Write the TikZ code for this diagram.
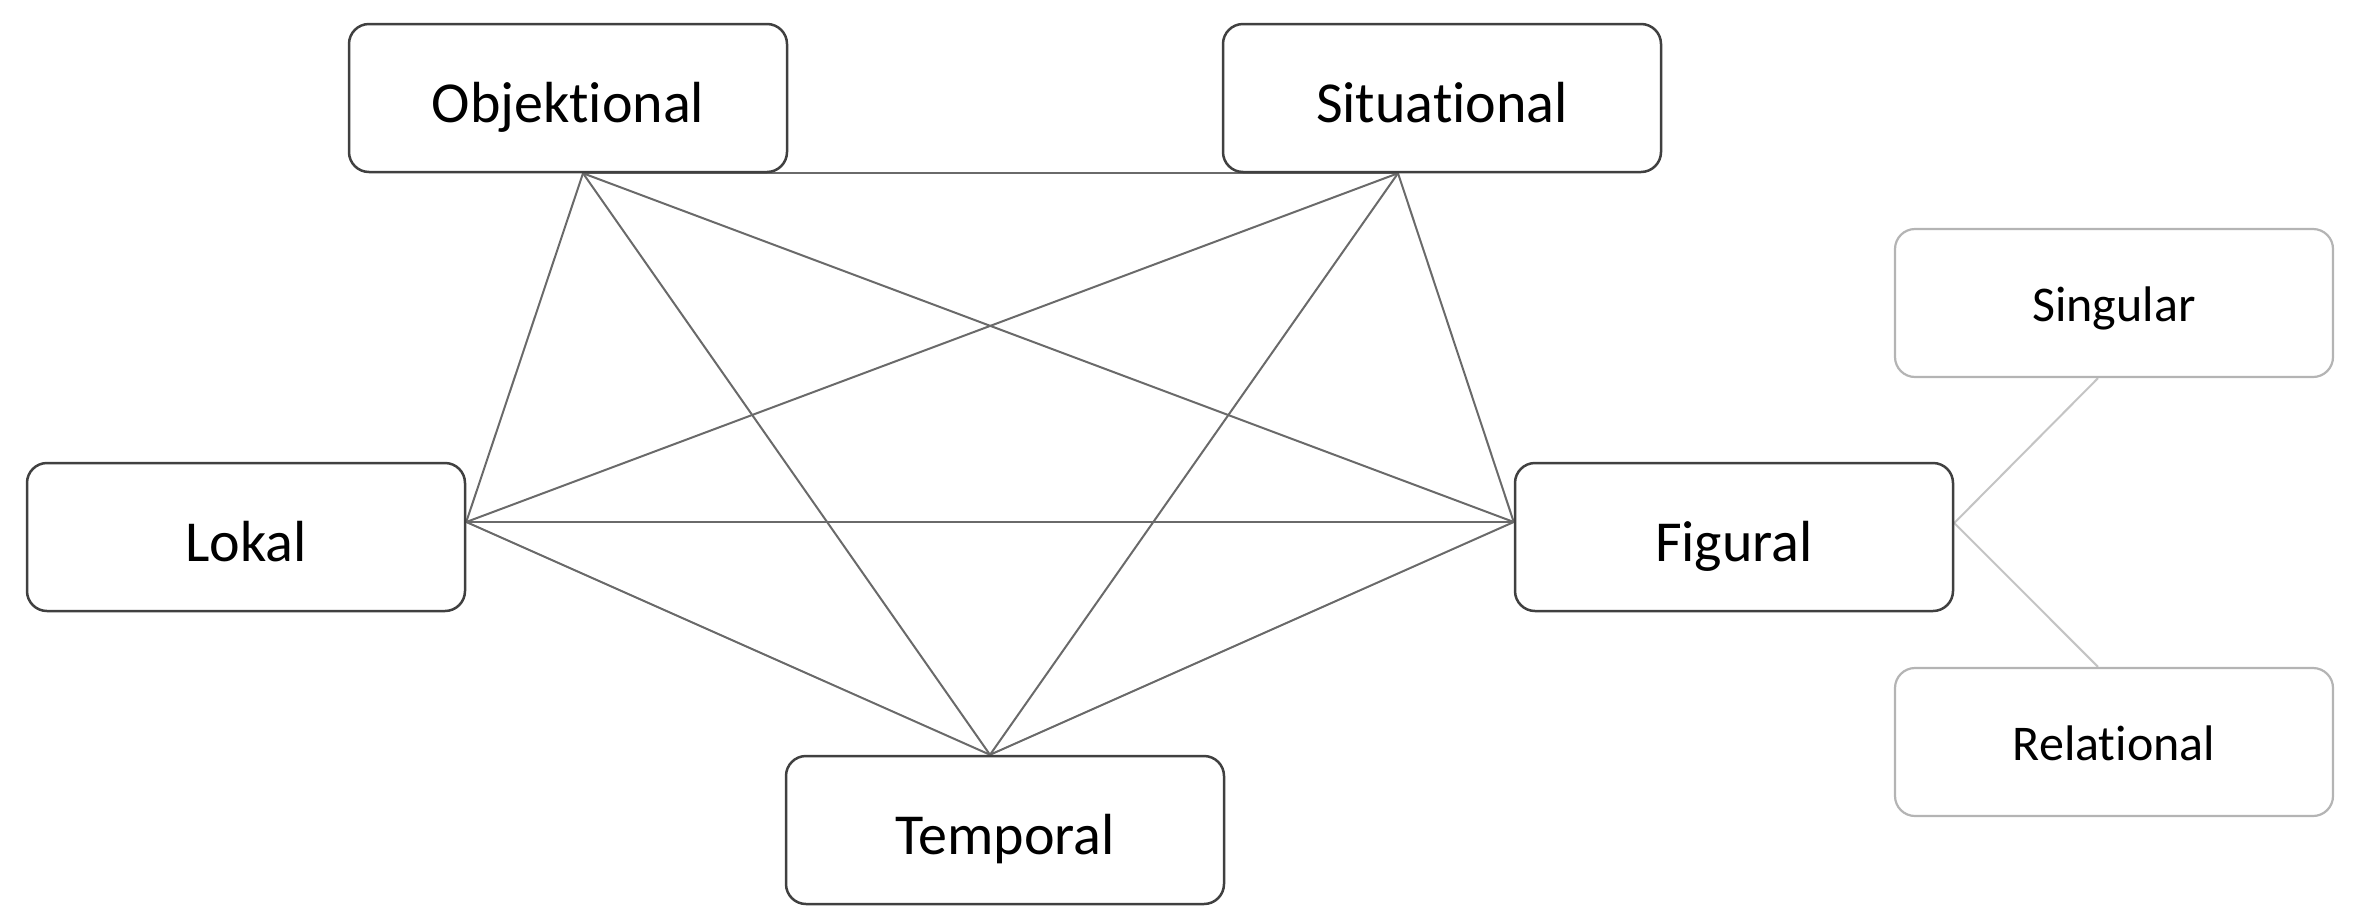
\documentclass[tikz,border=0pt]{standalone}
\usepackage{fontspec}
\setmainfont{Carlito}[Ligatures={NoCommon}]
\usetikzlibrary{backgrounds}
\definecolor{boxdark}{HTML}{404040}
\definecolor{linegray}{HTML}{6A6A6A}
\definecolor{boxlight}{HTML}{B4B4B4}
\definecolor{linelight}{HTML}{C4C4C4}
\tikzset{
  mainbox/.style={draw=boxdark, line width=1.25pt, fill=white, rounded corners=10pt,
    minimum width=219pt, minimum height=74pt, inner sep=0pt,
    text height=24.2pt, text depth=0pt, font=\fontsize{29}{34}\selectfont},
  subbox/.style={draw=boxlight, line width=1.1pt, fill=white, rounded corners=10pt,
    minimum width=219pt, minimum height=74pt, inner sep=0pt,
    text height=18.1pt, text depth=0pt, font=\fontsize{25}{30}\selectfont},
  conn/.style={draw=linegray, line width=1pt},
  subconn/.style={draw=linelight, line width=1pt}
}
\begin{document}
\begin{tikzpicture}[x=0.5pt, y=-0.5pt]
\useasboundingbox (0,0) rectangle (2377,922);
\node[mainbox] (O) at (568,98) {Objektional};
\node[mainbox] (S) at (1442,98) {Situational};
\node[mainbox] (L) at (246,537) {Lokal};
\node[mainbox] (F) at (1734,537) {Figural};
\node[mainbox] (T) at (1005,830) {Temporal};
\node[subbox] (Sg) at (2114,303) {Singular};
\node[subbox] (R) at (2114,742) {Relational};
\coordinate (Op) at ([xshift=7.5pt]O.south);
\coordinate (Sp) at ([xshift=-22pt]S.south);
\coordinate (Tp) at ([xshift=-7.5pt]T.north);
\coordinate (Lp) at ([yshift=7.5pt]L.east);
\coordinate (Fw) at ([yshift=7.5pt]F.west);
\coordinate (Fe) at ([yshift=7pt]F.east);
\coordinate (Sgp) at ([xshift=-8pt]Sg.south);
\coordinate (Rp) at ([xshift=-8pt]R.north);
\begin{scope}[on background layer]
\draw[conn] (Op) -- (Sp);
\draw[conn] (Op) -- (Lp);
\draw[conn] (Op) -- (Tp);
\draw[conn] (Op) -- (Fw);
\draw[conn] (Sp) -- (Lp);
\draw[conn] (Sp) -- (Tp);
\draw[conn] (Sp) -- (Fw);
\draw[conn] (Lp) -- (Fw);
\draw[conn] (Lp) -- (Tp);
\draw[conn] (Fw) -- (Tp);
\draw[subconn] (Fe) -- (Sgp);
\draw[subconn] (Fe) -- (Rp);
\end{scope}
\end{tikzpicture}
\end{document}
